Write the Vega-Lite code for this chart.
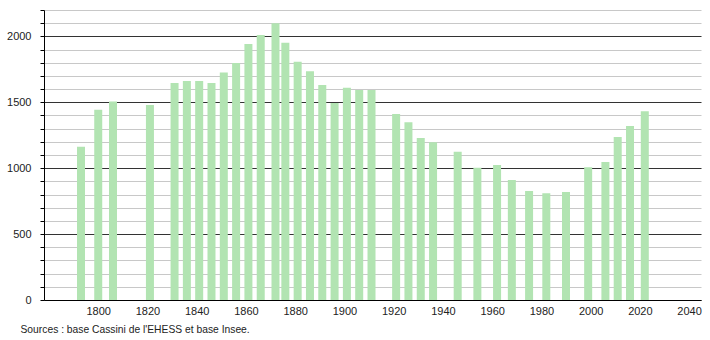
{
  "$schema": "https://vega.github.io/schema/vega-lite/v6.json",
  "autosize": {"type": "none"},
  "padding": {"left": 44, "top": 10, "right": 9, "bottom": 40},
  "width": 657,
  "height": 290,
  "background": "white",
  "config": {
    "view": {"stroke": null},
    "font": "Liberation Sans",
    "axis": {"labelFont": "Liberation Sans", "labelFontSize": 11, "labelColor": "#222", "domainColor": "#000", "tickColor": "#000"}
  },
  "data": {
    "values": [
      {"year": 1793, "pop": 1163},
      {"year": 1800, "pop": 1444},
      {"year": 1806, "pop": 1505},
      {"year": 1821, "pop": 1480},
      {"year": 1831, "pop": 1646},
      {"year": 1836, "pop": 1661},
      {"year": 1841, "pop": 1661},
      {"year": 1846, "pop": 1646},
      {"year": 1851, "pop": 1725},
      {"year": 1856, "pop": 1798},
      {"year": 1861, "pop": 1942},
      {"year": 1866, "pop": 2010},
      {"year": 1872, "pop": 2099},
      {"year": 1876, "pop": 1952},
      {"year": 1881, "pop": 1808},
      {"year": 1886, "pop": 1735},
      {"year": 1891, "pop": 1631},
      {"year": 1896, "pop": 1494},
      {"year": 1901, "pop": 1611},
      {"year": 1906, "pop": 1593},
      {"year": 1911, "pop": 1593},
      {"year": 1921, "pop": 1411},
      {"year": 1926, "pop": 1349},
      {"year": 1931, "pop": 1229},
      {"year": 1936, "pop": 1196},
      {"year": 1946, "pop": 1125},
      {"year": 1954, "pop": 1004},
      {"year": 1962, "pop": 1024},
      {"year": 1968, "pop": 910},
      {"year": 1975, "pop": 827},
      {"year": 1982, "pop": 809},
      {"year": 1990, "pop": 819},
      {"year": 1999, "pop": 1007},
      {"year": 2006, "pop": 1047},
      {"year": 2011, "pop": 1237},
      {"year": 2016, "pop": 1320},
      {"year": 2022, "pop": 1431}
    ]
  },
  "mark": {"type": "bar", "size": 8, "color": "#b2e4b2"},
  "encoding": {
    "x": {
      "field": "year",
      "type": "quantitative",
      "scale": {"domain": [1780, 2042.8], "nice": false, "zero": false},
      "axis": {
        "values": [1800, 1820, 1840, 1860, 1880, 1900, 1920, 1940, 1960, 1980, 2000, 2020, 2040],
        "format": "d",
        "grid": false,
        "ticks": false,
        "labelPadding": 5,
        "title": "Sources : base Cassini de l'EHESS et base Insee.",
        "titleFont": "Liberation Sans",
        "titleFontSize": 10.3,
        "titleFontWeight": "normal",
        "titleColor": "#222",
        "titleAnchor": "start",
        "titleAlign": "left",
        "titleBaseline": "middle",
        "titleX": -24,
        "titleY": 29
      }
    },
    "y": {
      "field": "pop",
      "type": "quantitative",
      "scale": {"domain": [0, 2200], "nice": false},
      "axis": {
        "values": [0, 100, 200, 300, 400, 500, 600, 700, 800, 900, 1000, 1100, 1200, 1300, 1400, 1500, 1600, 1700, 1800, 1900, 2000, 2100, 2200],
        "labelExpr": "datum.value % 500 === 0 ? datum.value : ''",
        "tickSize": 4,
        "labelPadding": 9,
        "grid": true,
        "gridColor": {"condition": {"test": "datum.value % 500 === 0", "value": "#333333"}, "value": "#c8c8c8"},
        "gridWidth": 1,
        "title": null
      }
    }
  }
}
